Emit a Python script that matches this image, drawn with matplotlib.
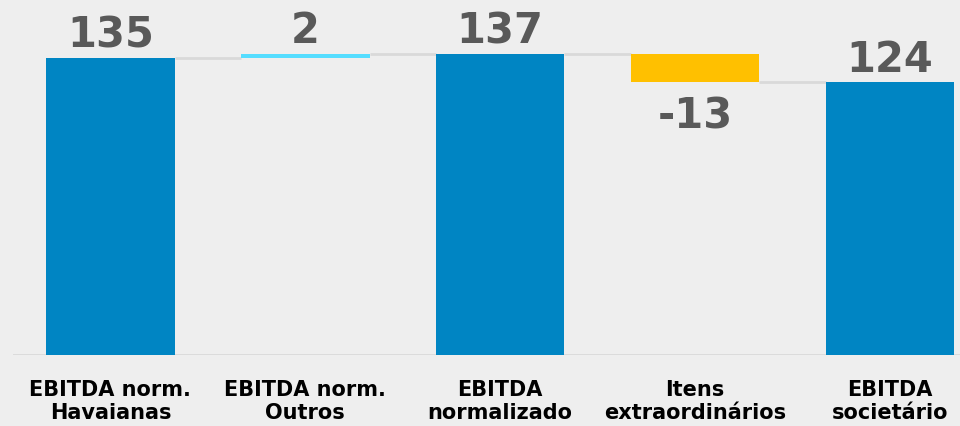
import numpy as np
import matplotlib
matplotlib.use('Agg')
import matplotlib.pyplot as plt

categories = ['EBITDA norm.\nHavaianas', 'EBITDA norm.\nOutros', 'EBITDA\nnormalizado',
              'Itens\nextraordinários', 'EBITDA\nsocietário']
values = [135, 2, 137, -13, 124]
is_total = [True, False, True, False, True]
labels = ['135', '2', '137', '-13', '124']

bg = '#eeeeee'
blue = '#0085c3'
cyan = '#55ddff'
yellow = '#ffc000'
grid_gray = '#d9d9d9'
text_gray = '#595959'

# waterfall bottoms/tops
bottoms, tops = [], []
running = 0
for v, tot in zip(values, is_total):
    if tot:
        bottoms.append(0)
        tops.append(v)
        running = v
    else:
        bottoms.append(running)
        running += v
        tops.append(running)
bottoms = np.array(bottoms, dtype=float)
tops = np.array(tops, dtype=float)
lo = np.minimum(bottoms, tops)
hi = np.maximum(bottoms, tops)

colors = []
for v, tot in zip(values, is_total):
    if tot:
        colors.append(blue)
    elif v >= 0:
        colors.append(cyan)
    else:
        colors.append(yellow)

fig = plt.figure(figsize=(9.6, 4.27), dpi=100, facecolor=bg)
ax = fig.add_axes([13 / 960, 71 / 427, 947 / 960, 356 / 427])
ax.set_facecolor(bg)

x = np.arange(len(categories))
w = 0.66
ax.bar(x, hi - lo, bottom=lo, width=w, color=colors, zorder=3)

# connectors
for i in range(len(x) - 1):
    ax.plot([x[i] + w / 2, x[i + 1] - w / 2], [tops[i], tops[i]],
            color=grid_gray, lw=2, zorder=2, solid_capstyle='butt')

# value labels
for i, (v, lab) in enumerate(zip(values, labels)):
    if v >= 0:
        ax.annotate(lab, (x[i], hi[i]), xytext=(0, 1.5), textcoords='offset points',
                    ha='center', va='bottom', fontsize=30, fontweight='bold',
                    color=text_gray)
    else:
        ax.annotate(lab, (x[i], lo[i]), xytext=(0, -9), textcoords='offset points',
                    ha='center', va='top', fontsize=30, fontweight='bold',
                    color=text_gray)

ax.axhline(0, color=grid_gray, lw=2, zorder=2)
ax.set_xlim(-0.5, 4.36)
ax.set_ylim(0, 161.8)
ax.set_xticks(x)
ax.set_xticklabels(categories, fontsize=15, fontweight='bold', color='black',
                   linespacing=1.2)
ax.tick_params(axis='x', length=0, pad=17)
ax.set_yticks([])
for s in ax.spines.values():
    s.set_visible(False)

fig.savefig('out.png', dpi=100, facecolor=bg)
